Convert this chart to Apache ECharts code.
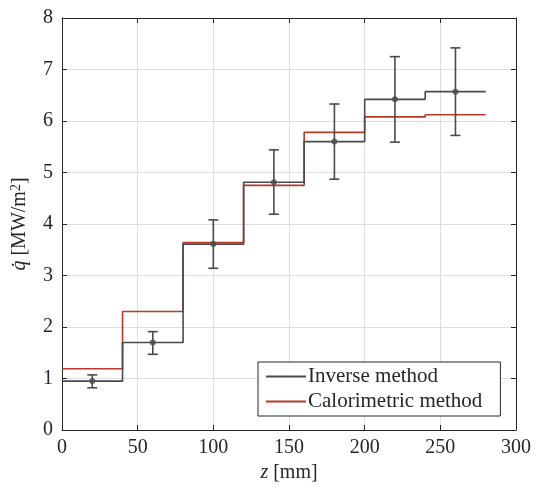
<!DOCTYPE html>
<html><head><meta charset="utf-8">
<script src="https://cdn.jsdelivr.net/npm/echarts@6/dist/echarts.min.js"></script>
<style>html,body{margin:0;padding:0;background:#fff}#c{width:541px;height:490px}</style>
</head><body><div id="c"></div>
<script>
const binEdges = [0, 40, 80, 120, 160, 200, 240, 280];
const inverseValues = [0.95, 1.70, 3.61, 4.81, 5.60, 6.42, 6.57];
const calorimetricValues = [1.19, 2.30, 3.64, 4.75, 5.78, 6.08, 6.12];
const pointZ = [20, 60, 100, 140, 180, 220, 260];
const pointValues = [0.95, 1.70, 3.61, 4.81, 5.60, 6.42, 6.57];
const errLow = [0.82, 1.47, 3.14, 4.19, 4.87, 5.59, 5.72];
const errHigh = [1.07, 1.91, 4.08, 5.44, 6.33, 7.25, 7.42];
const xTicks = [0, 50, 100, 150, 200, 250, 300];
const yTicks = [0, 1, 2, 3, 4, 5, 6, 7, 8];

function stepPoints(vals) {
  const pts = [];
  for (let i = 0; i < vals.length; i++) {
    pts.push([binEdges[i], vals[i]]);
    pts.push([binEdges[i + 1], vals[i]]);
  }
  return pts;
}
const FONT = '"Liberation Serif", "DejaVu Serif", serif';
const DARK = '#4a4a4a';
const RED = '#b8382a';
const AX = '#262626';
const chart = echarts.init(document.getElementById('c'));
function tick() { return { show: true, inside: true, length: 5, lineStyle: { color: AX, width: 1 } }; }
function line() { return { show: true, onZero: false, lineStyle: { color: AX, width: 1 } }; }
chart.setOption({
  animation: false,
  backgroundColor: '#fff',
  grid: { left: 62, right: 25, top: 18, bottom: 60 },
  xAxis: [
    {
      type: 'value', min: 0, max: 300, interval: 50,
      axisLine: line(), axisTick: tick(),
      axisLabel: { color: AX, fontFamily: FONT, fontSize: 20, margin: 8 },
      splitLine: { show: true, lineStyle: { color: '#dedede', width: 1 } },
      name: '{i|z} [mm]', nameLocation: 'middle', nameGap: 30,
      nameTextStyle: { color: AX, fontFamily: FONT, fontSize: 20,
        rich: { i: { fontStyle: 'italic', fontFamily: FONT, fontSize: 20, color: AX } } }
    },
    {
      type: 'value', min: 0, max: 300, interval: 50, position: 'top',
      axisLine: line(), axisTick: tick(),
      axisLabel: { show: false }, splitLine: { show: false }
    }
  ],
  yAxis: [
    {
      type: 'value', min: 0, max: 8, interval: 1,
      axisLine: line(), axisTick: tick(),
      axisLabel: { color: AX, fontFamily: FONT, fontSize: 20, margin: 9 },
      splitLine: { show: true, lineStyle: { color: '#dedede', width: 1 } },
      name: '{i|q\u0307} [MW/m{s|2}]', nameLocation: 'middle', nameGap: 31, nameRotate: 90,
      nameTextStyle: { color: AX, fontFamily: FONT, fontSize: 20,
        rich: { i: { fontStyle: 'italic', fontFamily: FONT, fontSize: 20, color: AX },
                s: { fontFamily: FONT, fontSize: 14, color: AX, verticalAlign: 'top', padding: [0, 0, 8, 0] } } }
    },
    {
      type: 'value', min: 0, max: 8, interval: 1, position: 'right',
      axisLine: line(), axisTick: tick(),
      axisLabel: { show: false }, splitLine: { show: false }
    }
  ],
  legend: {
    orient: 'vertical', left: 258, top: 362, padding: [4, 18, 4, 7],
    backgroundColor: '#fff', borderColor: AX, borderWidth: 1,
    itemWidth: 40, itemHeight: 2, itemGap: 4,
    textStyle: { fontFamily: FONT, fontSize: 21, color: AX, padding: [0, 0, 0, -3] },
    data: ['Inverse method', 'Calorimetric method']
  },
  series: [
    { name: 'Inverse method', type: 'line', data: stepPoints(inverseValues), symbol: 'none',
      lineStyle: { color: DARK, width: 1.6 }, itemStyle: { color: DARK }, z: 3 },
    { name: 'Calorimetric method', type: 'line', data: stepPoints(calorimetricValues), symbol: 'none',
      lineStyle: { color: RED, width: 1.6 }, itemStyle: { color: RED }, z: 2 },
    { name: 'err', type: 'custom', z: 4,
      data: pointZ.map((z, i) => [z, errLow[i], errHigh[i]]),
      renderItem: function (params, api) {
        const lo = api.coord([api.value(0), api.value(1)]);
        const hi = api.coord([api.value(0), api.value(2)]);
        const w = 5;
        const st = { stroke: DARK, lineWidth: 1.6 };
        return { type: 'group', children: [
          { type: 'line', shape: { x1: lo[0], y1: lo[1], x2: hi[0], y2: hi[1] }, style: st },
          { type: 'line', shape: { x1: lo[0] - w, y1: lo[1], x2: lo[0] + w, y2: lo[1] }, style: st },
          { type: 'line', shape: { x1: hi[0] - w, y1: hi[1], x2: hi[0] + w, y2: hi[1] }, style: st }
        ] };
      }
    },
    { name: 'pts', type: 'scatter', data: pointZ.map((z, i) => [z, pointValues[i]]),
      symbol: 'circle', symbolSize: 6, itemStyle: { color: DARK }, z: 5 }
  ]
});
</script></body></html>
